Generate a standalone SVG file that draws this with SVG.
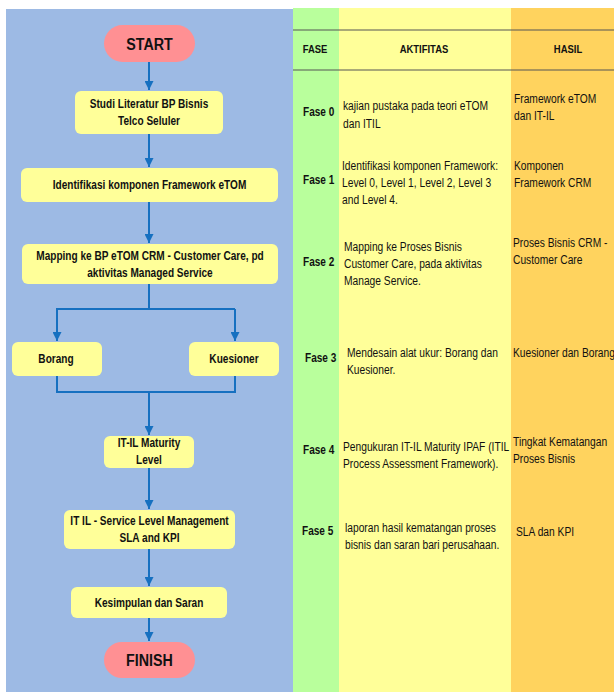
<svg xmlns="http://www.w3.org/2000/svg" width="614" height="692" viewBox="0 0 614 692">
<defs>
<marker id="ah" viewBox="0 0 10 10" refX="10" refY="5" markerWidth="11" markerHeight="9" markerUnits="userSpaceOnUse" orient="auto">
<path d="M0,0 L10,5 L0,10 z" fill="#1670c0"/>
</marker>
<style>
.t{font-family:"Liberation Sans",Arial,sans-serif;fill:#111}
.nb{font-size:12px;font-weight:bold;text-anchor:middle}
.pill{fill:#ff9093}
.box{fill:#ffff99}
.big{font-size:17px;font-weight:bold;text-anchor:middle}
.c{fill:none;stroke:#1670c0;stroke-width:2}
.ca{fill:none;stroke:#1670c0;stroke-width:2;marker-end:url(#ah)}
.tb{font-size:12.5px}
.fase{font-size:12px;font-weight:bold}
.hd{font-size:10.5px;font-weight:bold;text-anchor:middle}
</style>
</defs>
<rect x="0" y="0" width="614" height="692" fill="#ffffff"/>
<rect x="6" y="9" width="287" height="683" fill="#9dbae4"/>
<rect x="293" y="8" width="46" height="684" fill="#b9ff9c"/>
<rect x="339" y="8" width="172" height="684" fill="#ffff99"/>
<rect x="511" y="8" width="103" height="684" fill="#ffd35e"/>
<line x1="293" y1="30" x2="614" y2="30" stroke="#555" stroke-width="1"/>
<line x1="293" y1="70" x2="614" y2="70" stroke="#555" stroke-width="1"/>

<g id="connectors">
<line class="ca" x1="149" y1="62" x2="149" y2="90"/>
<line class="ca" x1="149" y1="134" x2="149" y2="167"/>
<line class="ca" x1="149" y1="202" x2="149" y2="243"/>
<polyline class="c" points="149,284 149,309 57,309 57,316"/>
<line class="ca" x1="57" y1="309" x2="57" y2="341"/>
<line class="ca" x1="235" y1="309" x2="235" y2="341"/>
<line class="c" x1="149" y1="309" x2="235" y2="309"/>
<polyline class="c" points="57,376 57,392 235,392 235,376"/>
<line class="ca" x1="149" y1="392" x2="149" y2="435"/>
<line class="ca" x1="149" y1="468" x2="149" y2="509"/>
<line class="ca" x1="149" y1="549" x2="149" y2="586"/>
<line class="ca" x1="149" y1="618" x2="149" y2="641"/>
</g>

<g id="start">
<rect class="pill" x="104" y="25" width="91" height="37" rx="18.5"/>
<text class="t big" transform="translate(149.5,49.5) scale(0.84,1)">START</text>
</g>
<g id="studi">
<rect class="box" x="75" y="91" width="148" height="43" rx="6"/>
<text class="t nb" transform="translate(149,108) scale(0.84,1)">Studi Literatur BP Bisnis</text>
<text class="t nb" transform="translate(149,125) scale(0.84,1)">Telco Seluler</text>
</g>
<g id="identifikasi">
<rect class="box" x="21" y="168" width="257" height="34" rx="6"/>
<text class="t nb" transform="translate(149.5,189) scale(0.84,1)">Identifikasi komponen Framework eTOM</text>
</g>
<g id="mapping">
<rect class="box" x="22" y="244" width="256" height="40" rx="6"/>
<text class="t nb" transform="translate(150,260) scale(0.84,1)">Mapping ke BP eTOM CRM - Customer Care, pd</text>
<text class="t nb" transform="translate(150,277) scale(0.84,1)">aktivitas Managed Service</text>
</g>
<g id="borang">
<rect class="box" x="12" y="342" width="90" height="34" rx="6"/>
<text class="t nb" transform="translate(56,363) scale(0.84,1)">Borang</text>
</g>
<g id="kuesioner">
<rect class="box" x="189" y="342" width="90" height="34" rx="6"/>
<text class="t nb" transform="translate(234,363) scale(0.84,1)">Kuesioner</text>
</g>
<g id="itil-maturity">
<rect class="box" x="104" y="436" width="90" height="32" rx="6"/>
<text class="t nb" transform="translate(149,447) scale(0.84,1)">IT-IL Maturity</text>
<text class="t nb" transform="translate(149,464) scale(0.84,1)">Level</text>
</g>
<g id="slm">
<rect class="box" x="64" y="510" width="171" height="39" rx="6"/>
<text class="t nb" transform="translate(149.5,525) scale(0.84,1)">IT IL - Service Level Management</text>
<text class="t nb" transform="translate(149.5,542) scale(0.84,1)">SLA and KPI</text>
</g>
<g id="kesimpulan">
<rect class="box" x="71" y="587" width="156" height="31" rx="6"/>
<text class="t nb" transform="translate(149,607) scale(0.84,1)">Kesimpulan dan Saran</text>
</g>
<g id="finish">
<rect class="pill" x="104" y="642" width="91" height="36" rx="18"/>
<text class="t big" transform="translate(149.5,666) scale(0.84,1)">FINISH</text>
</g>

<g id="table">
<text class="t hd" transform="translate(315,53) scale(0.9,1)">FASE</text>
<text class="t hd" transform="translate(424,53) scale(0.9,1)">AKTIFITAS</text>
<text class="t hd" transform="translate(568,53) scale(0.9,1)">HASIL</text>

<text class="t fase" transform="translate(303,116) scale(0.84,1)">Fase 0</text>
<text class="t tb" transform="translate(343,110) scale(0.82,1)">kajian pustaka pada teori eTOM</text>
<text class="t tb" transform="translate(343,128) scale(0.82,1)">dan ITIL</text>
<text class="t tb" transform="translate(514,103) scale(0.82,1)">Framework eTOM</text>
<text class="t tb" transform="translate(514,120) scale(0.82,1)">dan IT-IL</text>

<text class="t fase" transform="translate(303,184) scale(0.84,1)">Fase 1</text>
<text class="t tb" transform="translate(342,170) scale(0.82,1)">Identifikasi komponen Framework:</text>
<text class="t tb" transform="translate(342,187) scale(0.82,1)">Level 0, Level 1, Level 2, Level 3</text>
<text class="t tb" transform="translate(342,204) scale(0.82,1)">and Level 4.</text>
<text class="t tb" transform="translate(514,170) scale(0.82,1)">Komponen</text>
<text class="t tb" transform="translate(514,187) scale(0.82,1)">Framework CRM</text>

<text class="t fase" transform="translate(303,266) scale(0.84,1)">Fase 2</text>
<text class="t tb" transform="translate(344,251) scale(0.82,1)">Mapping ke Proses Bisnis</text>
<text class="t tb" transform="translate(344,268) scale(0.82,1)">Customer Care, pada aktivitas</text>
<text class="t tb" transform="translate(344,285) scale(0.82,1)">Manage Service.</text>
<text class="t tb" transform="translate(513,247) scale(0.82,1)">Proses Bisnis CRM -</text>
<text class="t tb" transform="translate(513,264) scale(0.82,1)">Customer Care</text>

<text class="t fase" transform="translate(305,362) scale(0.84,1)">Fase 3</text>
<text class="t tb" transform="translate(347,357) scale(0.82,1)">Mendesain alat ukur: Borang dan</text>
<text class="t tb" transform="translate(347,374) scale(0.82,1)">Kuesioner.</text>
<text class="t tb" transform="translate(513,357) scale(0.82,1)">Kuesioner dan Borang</text>

<text class="t fase" transform="translate(303,454) scale(0.84,1)">Fase 4</text>
<text class="t tb" transform="translate(343,451) scale(0.82,1)">Pengukuran IT-IL Maturity IPAF (ITIL</text>
<text class="t tb" transform="translate(343,468) scale(0.82,1)">Process Assessment Framework).</text>
<text class="t tb" transform="translate(513,446) scale(0.82,1)">Tingkat Kematangan</text>
<text class="t tb" transform="translate(513,463) scale(0.82,1)">Proses Bisnis</text>

<text class="t fase" transform="translate(302,535) scale(0.84,1)">Fase 5</text>
<text class="t tb" transform="translate(345,532) scale(0.82,1)">laporan hasil kematangan proses</text>
<text class="t tb" transform="translate(345,549) scale(0.82,1)">bisnis dan saran bari perusahaan.</text>
<text class="t tb" transform="translate(516,536) scale(0.82,1)">SLA dan KPI</text>
</g>
</svg>
